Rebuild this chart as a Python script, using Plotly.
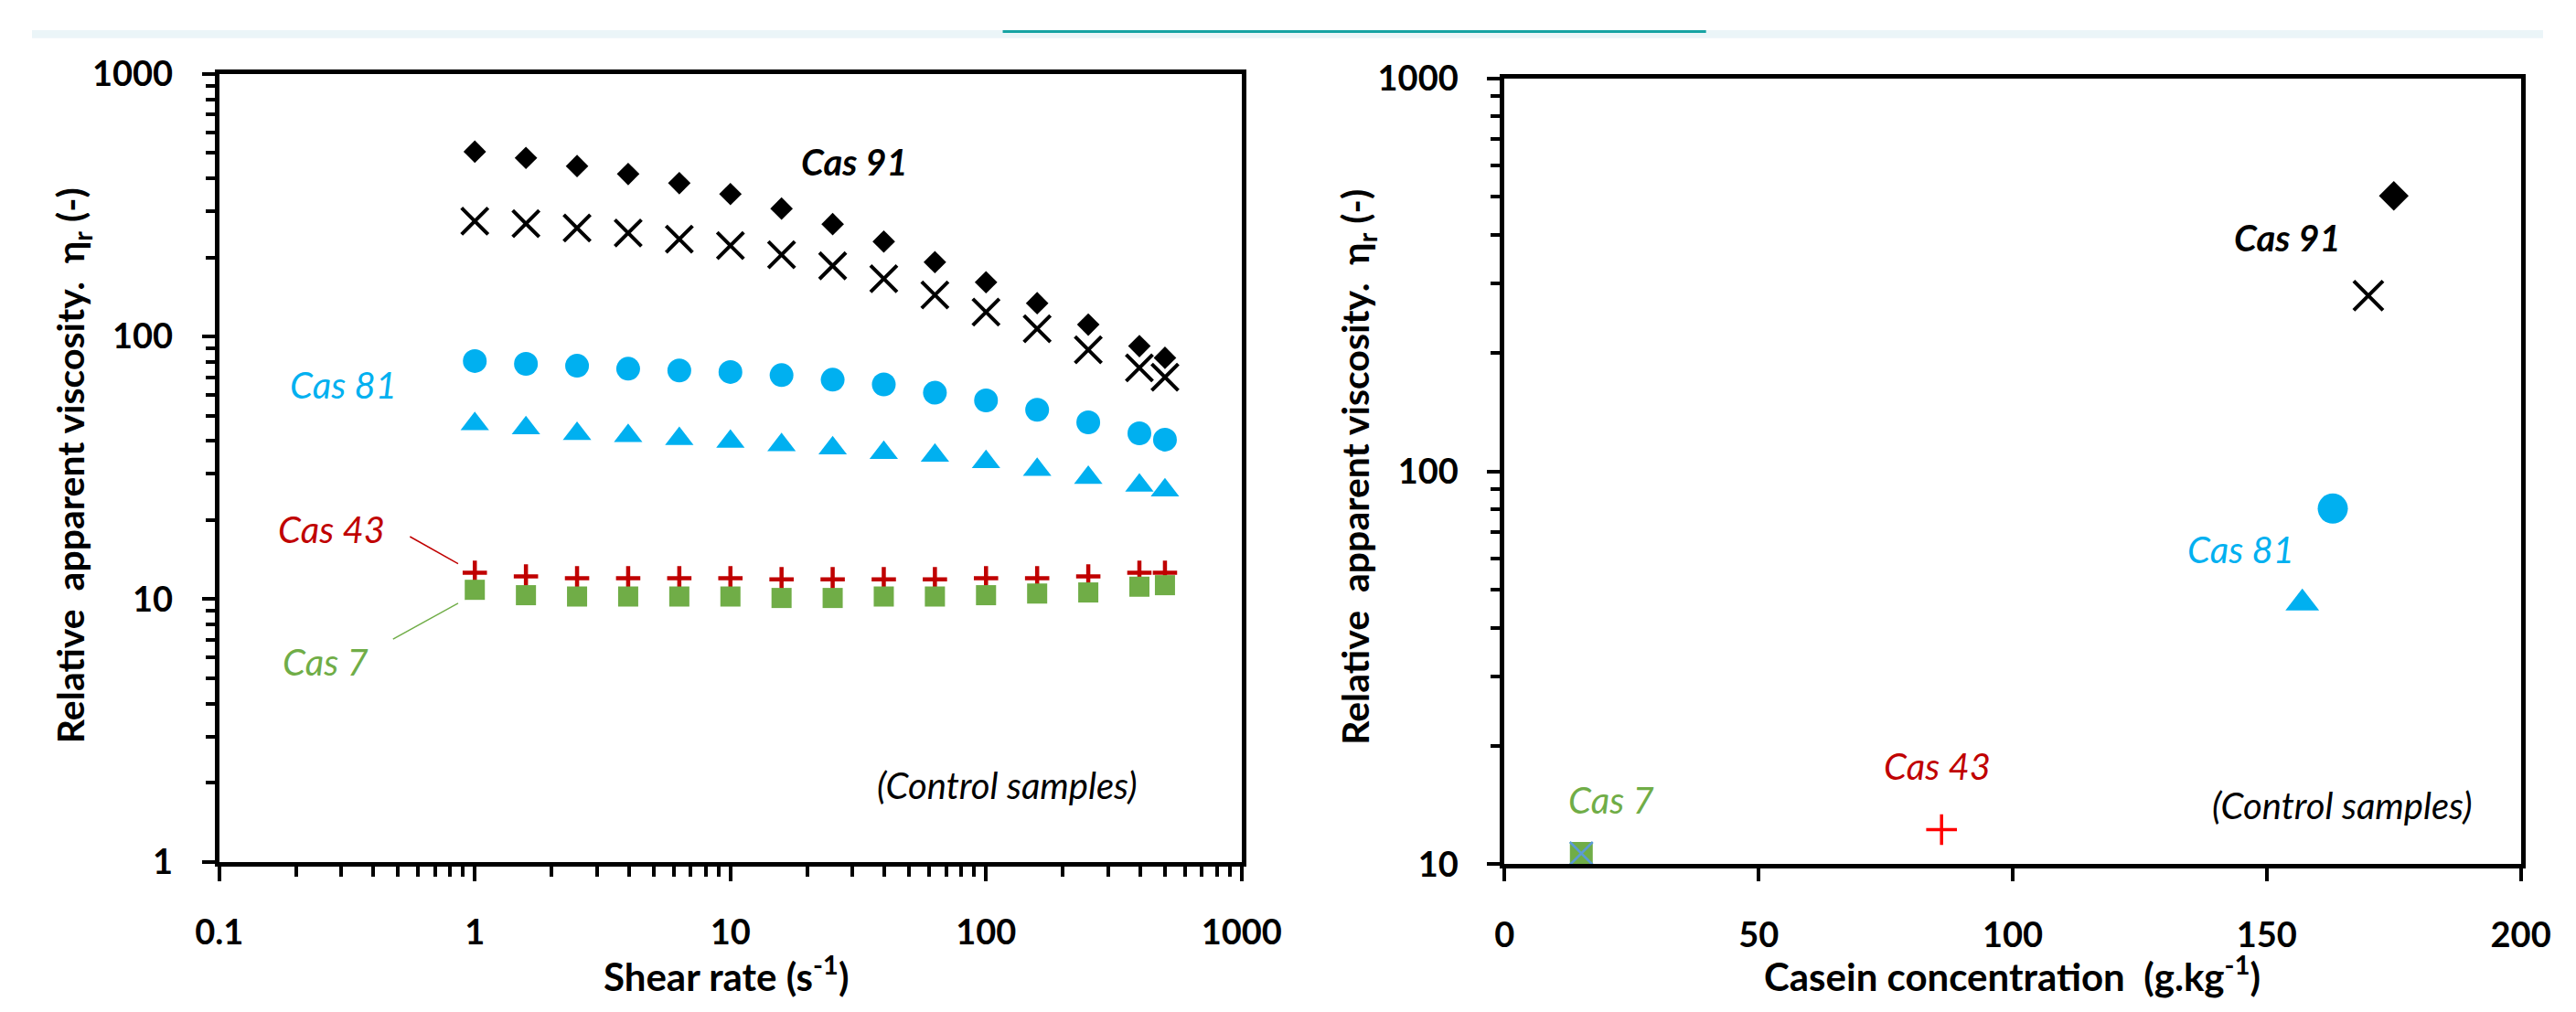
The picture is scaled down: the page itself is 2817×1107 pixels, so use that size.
import plotly.graph_objects as go

W, H = 2817, 1107
FONT = "Lato"

# ---------------- data (left: viscosity vs shear rate) ----------------
shear_rate = [1, 1.585, 2.512, 3.981, 6.31, 10, 15.85, 25.12, 39.81, 63.1, 100, 158.5, 251.2, 398.1, 501.2]
cas91_diamond = [506, 479, 446, 416, 384, 349, 307, 268, 230, 192, 161, 134, 111, 92, 83]
cas91_cross = [275, 269, 259, 248, 235, 222, 205, 186, 166, 144, 124, 107, 89, 76, 70]
cas81_circle = [80.7, 78.7, 77.4, 75.4, 74.3, 73.3, 71.3, 68.5, 65.7, 61.1, 57.1, 52.6, 47.1, 42.8, 40.5]
cas81_triangle = [46.5, 44.8, 42.6, 41.9, 40.8, 39.8, 38.6, 37.6, 36.1, 35.2, 33.3, 31.1, 29.0, 27.1, 26.0]
cas43_plus = [12.6, 12.2, 12.0, 12.0, 12.0, 12.0, 11.9, 11.9, 11.9, 11.9, 12.0, 12.0, 12.2, 12.6, 12.6]
cas7_square = [10.85, 10.35, 10.23, 10.23, 10.23, 10.23, 10.1, 10.1, 10.23, 10.23, 10.35, 10.5, 10.6, 11.15, 11.3]

# ---------------- data (right: viscosity vs casein concentration) ----------------
conc_cas91_diamond, visc_cas91_diamond = [175], [502]
conc_cas91_cross, visc_cas91_cross = [170], [280]
conc_cas81_circle, visc_cas81_circle = [163], [80.4]
conc_cas81_triangle, visc_cas81_triangle = [157], [46.2]
conc_cas43_plus, visc_cas43_plus = [86], [12.25]
conc_cas7_square, visc_cas7_square = [15.1], [10.66]

x_left_ticks = [0.1, 1, 10, 100, 1000]
x_left_labels = ["0.1", "1", "10", "100", "1000"]
y_left_ticks = [1, 10, 100, 1000]
y_left_labels = ["1", "10", "100", "1000"]
x_right_ticks = [0, 50, 100, 150, 200]
x_right_labels = ["0", "50", "100", "150", "200"]
y_right_ticks = [10, 100, 1000]
y_right_labels = ["10", "100", "1000"]

BLACK = "#000000"
CYAN = "#00B0F0"
DARKRED = "#C00000"
RED = "#FF0000"
GREEN = "#70AD47"
LIGHTBLUE = "#5B9BD5"


def px(x):
    return x / W


def py(y):
    return 1 - y / H


def minor_log(lo, hi):
    return [m * 10 ** e for e in range(lo, hi) for m in range(2, 10)]


fig = go.Figure()


def add(x, y, symbol, color, size, xa, ya, lw=0):
    marker = dict(symbol=symbol, size=size, color=color,
                  line=dict(width=lw, color=color))
    fig.add_trace(go.Scatter(x=x, y=y, mode="markers", marker=marker,
                             xaxis=xa, yaxis=ya, cliponaxis=False, showlegend=False))


# left plot
add(shear_rate, cas91_diamond, "diamond", BLACK, 19, "x", "y")
add(shear_rate, cas91_cross, "x-thin", BLACK, 29, "x", "y", lw=4)
add(shear_rate, cas81_circle, "circle", CYAN, 26, "x", "y")
add(shear_rate, cas81_triangle, "triangle-up", CYAN, 27, "x", "y")
add(shear_rate, cas43_plus, "cross-thin", DARKRED, 19, "x", "y", lw=4.5)
add(shear_rate, cas7_square, "square", GREEN, 22, "x", "y")

# right plot
add(conc_cas91_diamond, visc_cas91_diamond, "diamond", BLACK, 25, "x2", "y2")
add(conc_cas91_cross, visc_cas91_cross, "x-thin", BLACK, 32, "x2", "y2", lw=4)
add(conc_cas81_circle, visc_cas81_circle, "circle", CYAN, 33, "x2", "y2")
add(conc_cas81_triangle, visc_cas81_triangle, "triangle-up", CYAN, 32, "x2", "y2")
add(conc_cas43_plus, visc_cas43_plus, "cross-thin", RED, 24, "x2", "y2", lw=3.5)
add(conc_cas7_square, visc_cas7_square, "square", GREEN, 25, "x2", "y2")
add(conc_cas7_square, visc_cas7_square, "x-thin", LIGHTBLUE, 25, "x2", "y2", lw=2.5)

tickfont = dict(family=FONT, size=38, color="black", weight="bold")
base = dict(showline=True, linecolor="black", linewidth=5, mirror=True,
            ticks="outside", tickwidth=4, tickcolor="black",
            showgrid=False, zeroline=False, tickfont=tickfont, tickmode="array")

fig.update_layout(
    width=W, height=H, autosize=False,
    margin=dict(l=0, r=0, t=0, b=0, pad=0),
    paper_bgcolor="white", plot_bgcolor="white",
    xaxis=dict(base, type="log", range=[-1, 3], domain=[px(210), px(1357)], anchor="y",
               tickvals=x_left_ticks, ticktext=x_left_labels, ticklen=16, ticklabelstandoff=24,
               minor=dict(tickmode="array", tickvals=minor_log(-1, 3), ticks="outside",
                          ticklen=11, tickwidth=4, tickcolor="black", showgrid=False)),
    yaxis=dict(base, type="log", range=[0, 3], domain=[py(949), py(50)], anchor="x",
               tickvals=y_left_ticks, ticktext=y_left_labels, ticklen=14, ticklabelstandoff=24,
               minor=dict(tickmode="array", tickvals=minor_log(0, 3), ticks="outside",
                          ticklen=10, tickwidth=4, tickcolor="black", showgrid=False)),
    xaxis2=dict(base, type="linear", range=[0, 200], domain=[px(1652), px(2792)], anchor="y2",
                tickvals=x_right_ticks, ticktext=x_right_labels, ticklen=14, ticklabelstandoff=26),
    yaxis2=dict(base, type="log", range=[1, 3], domain=[py(952), py(55)], anchor="x2",
                tickvals=y_right_ticks, ticktext=y_right_labels, ticklen=14, ticklabelstandoff=24,
                minor=dict(tickmode="array", tickvals=minor_log(1, 3), ticks="outside",
                           ticklen=10, tickwidth=4, tickcolor="black", showgrid=False)),
)


def note(text, x, y, color, size=40, angle=0, weight="normal", style="normal"):
    fig.add_annotation(text=text, x=px(x), y=py(y), xref="paper", yref="paper",
                       showarrow=False, xanchor="center", yanchor="middle",
                       textangle=angle,
                       font=dict(family=FONT, size=size, color=color, weight=weight, style=style))


# left plot labels
note("Cas 91", 923, 150, BLACK, weight="bold", style="italic")
note("Cas 81", 349, 405, CYAN, style="italic")
note("Cas 43", 336, 570, DARKRED, style="italic")
note("Cas 7", 329, 721, GREEN, style="italic")
note("(Control samples)", 1094, 862, BLACK, style="italic")
# right plot labels
note("Cas 91", 2530, 237, BLACK, weight="bold", style="italic")
note("Cas 81", 2478, 593, CYAN, style="italic")
note("Cas 43", 2137, 840, DARKRED, style="italic")
note("Cas 7", 1772, 879, GREEN, style="italic")
note("(Control samples)", 2592, 885, BLACK, style="italic")

# axis titles
note("Shear rate (s<sup>-1</sup>)", 779, 1077, BLACK, size=42, weight="bold")
note("Casein concentration\u00a0 (g.kg<sup>-1</sup>)", 2222, 1077, BLACK, size=42, weight="bold")
ytitle = "Relative\u00a0 apparent viscosity.\u00a0 η<sub>r</sub> (-)"
note(ytitle, 46, 497, BLACK, size=41, angle=-90, weight="bold")
note(ytitle, 1487, 499, BLACK, size=41, angle=-90, weight="bold")

shapes = [
    # page header band and tab underline
    dict(type="rect", xref="paper", yref="paper", x0=0, x1=1, y0=py(9), y1=1,
         fillcolor="#EBF5F8", line=dict(width=0), layer="below"),
    dict(type="rect", xref="paper", yref="paper", x0=px(1089), x1=px(1878), y0=py(3), y1=1,
         fillcolor="#17A3A3", line=dict(width=0), layer="above"),
    # leader lines
    dict(type="line", xref="paper", yref="paper", x0=px(424), y0=py(578), x1=px(478), y1=py(609),
         line=dict(color=DARKRED, width=1.5)),
    dict(type="line", xref="paper", yref="paper", x0=px(405), y0=py(695), x1=px(478), y1=py(654),
         line=dict(color=GREEN, width=1.5)),
]
fig.update_layout(shapes=shapes)

fig.write_html("out.html")
